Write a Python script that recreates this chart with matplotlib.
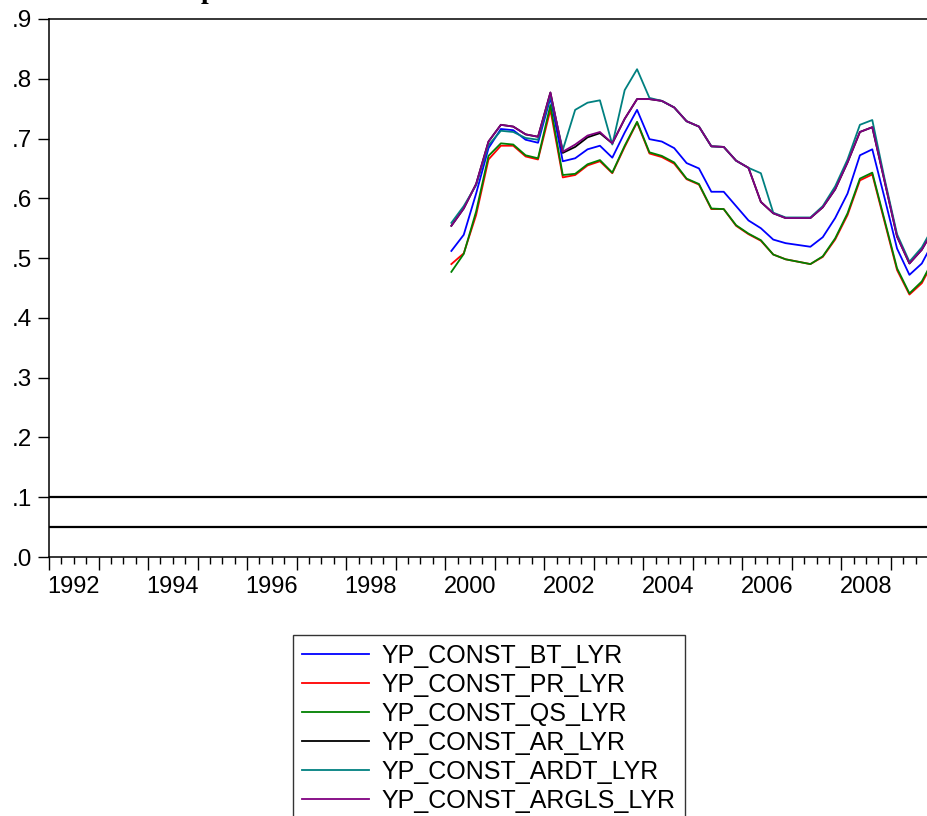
import matplotlib
matplotlib.use("Agg")
import matplotlib.pyplot as plt
import numpy as np
import pandas as pd

plt.rcParams['font.family'] = ['Liberation Sans', 'DejaVu Sans']

quarters = pd.period_range('2000Q1', '2009Q4', freq='Q')

bt = [0.512, 0.539, 0.608, 0.684, 0.716, 0.714, 0.698, 0.693, 0.768, 0.662,
      0.667, 0.682, 0.688, 0.668, 0.710, 0.748, 0.699, 0.695, 0.684, 0.659,
      0.650, 0.611, 0.611, 0.587, 0.563, 0.550, 0.531, 0.525, 0.522, 0.519,
      0.535, 0.567, 0.608, 0.672, 0.682, 0.600, 0.516, 0.472, 0.491, 0.530]
pr = [0.490, 0.508, 0.572, 0.665, 0.688, 0.688, 0.670, 0.665, 0.748, 0.635,
      0.639, 0.655, 0.662, 0.642, 0.686, 0.727, 0.675, 0.669, 0.658, 0.632,
      0.623, 0.582, 0.582, 0.554, 0.540, 0.529, 0.506, 0.498, 0.494, 0.490,
      0.502, 0.531, 0.572, 0.630, 0.640, 0.560, 0.480, 0.439, 0.458, 0.497]
qs = [0.477, 0.507, 0.578, 0.671, 0.692, 0.690, 0.672, 0.667, 0.756, 0.639,
      0.641, 0.657, 0.664, 0.643, 0.688, 0.728, 0.677, 0.671, 0.660, 0.633,
      0.624, 0.583, 0.582, 0.555, 0.541, 0.530, 0.506, 0.498, 0.494, 0.490,
      0.503, 0.533, 0.575, 0.633, 0.643, 0.563, 0.483, 0.441, 0.461, 0.500]
ar = [0.554, 0.583, 0.624, 0.695, 0.723, 0.720, 0.707, 0.703, 0.777, 0.676,
      0.686, 0.702, 0.709, 0.692, 0.733, 0.766, 0.766, 0.763, 0.752, 0.729,
      0.720, 0.687, 0.686, 0.663, 0.651, 0.594, 0.575, 0.567, 0.567, 0.567,
      0.585, 0.615, 0.660, 0.711, 0.719, 0.628, 0.536, 0.491, 0.514, 0.550]
ardt = [0.559, 0.587, 0.622, 0.689, 0.713, 0.711, 0.701, 0.698, 0.772, 0.681,
        0.748, 0.760, 0.764, 0.690, 0.781, 0.816, 0.768, 0.763, 0.752, 0.729,
        0.720, 0.687, 0.686, 0.663, 0.651, 0.642, 0.576, 0.568, 0.568, 0.568,
        0.587, 0.620, 0.665, 0.723, 0.731, 0.632, 0.540, 0.494, 0.518, 0.555]
argls = [0.554, 0.583, 0.624, 0.695, 0.723, 0.720, 0.707, 0.703, 0.777, 0.678,
         0.690, 0.705, 0.711, 0.692, 0.733, 0.766, 0.766, 0.763, 0.752, 0.729,
         0.720, 0.687, 0.686, 0.663, 0.651, 0.594, 0.575, 0.567, 0.567, 0.567,
         0.585, 0.615, 0.660, 0.711, 0.719, 0.628, 0.536, 0.491, 0.514, 0.550]

names = ["YP_CONST_BT_LYR", "YP_CONST_PR_LYR", "YP_CONST_QS_LYR",
         "YP_CONST_AR_LYR", "YP_CONST_ARDT_LYR", "YP_CONST_ARGLS_LYR"]
colors = ["#0000ff", "#ff0000", "#008000", "#000000", "#008080", "#800080"]
crit_levels = [0.10, 0.05]

y_ticks = [0.0, 0.1, 0.2, 0.3, 0.4, 0.5, 0.6, 0.7, 0.8, 0.9]
y_labels = [".0", ".1", ".2", ".3", ".4", ".5", ".6", ".7", ".8", ".9"]
year_labels = ["1992", "1994", "1996", "1998", "2000", "2002", "2004", "2006", "2008"]

# quarter midpoints as decimal years
x = np.array([p.year + (p.quarter - 0.5) / 4 for p in quarters])

W, H = 928, 816
fig = plt.figure(figsize=(W / 100, H / 100), dpi=100)
px_per_year = (893 - 49) / 17.0
ax = fig.add_axes([49 / W, 1 - 557 / H, (W - 49) / W, (557 - 19) / H])

series = [bt, pr, qs, ar, ardt, argls]
handles = []
for vals, name, c in zip(series, names, colors):
    h, = ax.plot(x, vals, color=c, lw=1.3, label=name)
    handles.append(h)

for lvl in crit_levels:
    ax.axhline(lvl, color="black", lw=1.6)

ax.set_xlim(1992, 1992 + (W - 49) / px_per_year)
ax.set_ylim(0, 0.9)

ax.set_yticks(y_ticks, labels=y_labels)
ax.tick_params(axis='y', direction='out', length=8, width=1, labelsize=17.5, pad=4)

ax.set_xticks(np.arange(1992, 2010), labels=[])
ax.set_xticks(np.arange(1992, 2010, 0.25), minor=True)
ax.tick_params(axis='x', which='major', direction='out', length=9, width=1)
ax.tick_params(axis='x', which='minor', direction='out', length=5, width=1)

sec = ax.secondary_xaxis('bottom')
sec.set_xticks([int(y) + 0.5 for y in year_labels], labels=year_labels)
sec.tick_params(length=0, pad=14, labelsize=17)
sec.spines['bottom'].set_visible(False)

for s in ['left', 'bottom', 'top']:
    ax.spines[s].set_linewidth(1.1)
ax.spines['right'].set_visible(False)

leg = fig.legend(handles=handles, loc='upper left',
                 bbox_to_anchor=(293 / W, 1 - 635 / H), borderaxespad=0,
                 fontsize=18, frameon=True, fancybox=False, edgecolor='black',
                 handlelength=2.7, handletextpad=0.5, labelspacing=0.2,
                 borderpad=0.35)
leg.get_frame().set_linewidth(1.0)

# descender of the cut-off title
fig.text(208 / W, 1 + 2 / H, "p", family=['Liberation Serif', 'DejaVu Serif'],
         fontsize=20, fontweight='bold', ha='center', va='baseline')

fig.savefig("out.png", dpi=100)
